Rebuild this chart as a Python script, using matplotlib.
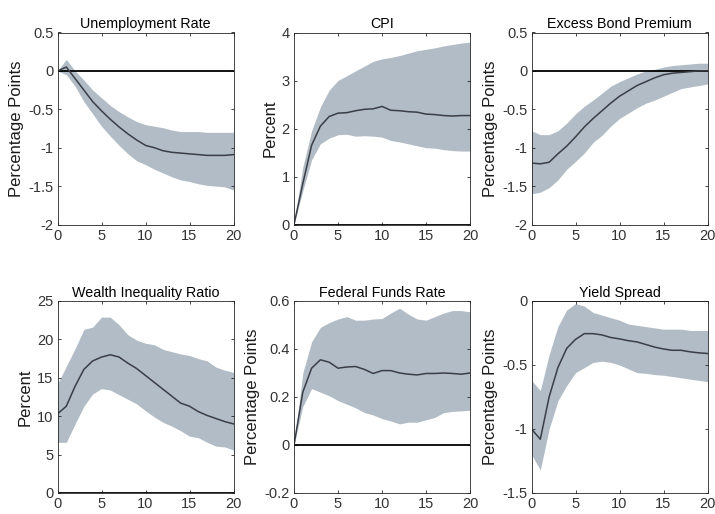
import numpy as np
import matplotlib
matplotlib.use("Agg")
import matplotlib.pyplot as plt

plt.rcParams["font.family"] = ["Liberation Sans", "DejaVu Sans"]

horizon = np.arange(21)

titles = ["Unemployment Rate", "CPI", "Excess Bond Premium",
          "Wealth Inequality Ratio", "Federal Funds Rate", "Yield Spread"]
ylabels = ["Percentage Points", "Percent", "Percentage Points",
           "Percent", "Percentage Points", "Percentage Points"]
ylims = [(-2, 0.5), (0, 4), (-2, 0.5), (0, 25), (-0.2, 0.6), (-1.5, 0)]
yticks = [[-2, -1.5, -1, -0.5, 0, 0.5], [0, 1, 2, 3, 4], [-2, -1.5, -1, -0.5, 0, 0.5],
          [0, 5, 10, 15, 20, 25], [-0.2, 0, 0.2, 0.4, 0.6], [-1.5, -1, -0.5, 0]]
yticklabels = [["-2", "-1.5", "-1", "-0.5", "0", "0.5"], ["0", "1", "2", "3", "4"],
               ["-2", "-1.5", "-1", "-0.5", "0", "0.5"], ["0", "5", "10", "15", "20", "25"],
               ["-0.2", "0", "0.2", "0.4", "0.6"], ["-1.5", "-1", "-0.5", "0"]]

# impulse responses (median) and bands
unemp_mid = [0, 0.05, -0.1, -0.25, -0.4, -0.52, -0.63, -0.73, -0.82, -0.9, -0.97,
             -1.0, -1.04, -1.06, -1.07, -1.08, -1.09, -1.1, -1.1, -1.1, -1.09]
unemp_hi = [0, 0.15, 0.0, -0.12, -0.25, -0.35, -0.45, -0.53, -0.6, -0.66, -0.7,
            -0.72, -0.74, -0.77, -0.79, -0.79, -0.79, -0.8, -0.8, -0.8, -0.8]
unemp_lo = [0, -0.05, -0.2, -0.4, -0.56, -0.72, -0.85, -0.97, -1.08, -1.17, -1.22,
            -1.28, -1.33, -1.38, -1.42, -1.44, -1.47, -1.49, -1.5, -1.51, -1.55]

cpi_mid = [0, 0.85, 1.65, 2.05, 2.25, 2.32, 2.33, 2.37, 2.4, 2.41, 2.46,
           2.38, 2.37, 2.35, 2.34, 2.3, 2.29, 2.27, 2.26, 2.27, 2.27]
cpi_hi = [0, 1.2, 1.95, 2.45, 2.8, 3.0, 3.1, 3.2, 3.3, 3.4, 3.45,
          3.48, 3.52, 3.57, 3.62, 3.65, 3.68, 3.72, 3.75, 3.78, 3.8]
cpi_lo = [0, 0.7, 1.35, 1.68, 1.8, 1.87, 1.88, 1.84, 1.85, 1.84, 1.82,
          1.75, 1.72, 1.68, 1.64, 1.6, 1.59, 1.56, 1.54, 1.53, 1.53]

ebp_mid = [-1.2, -1.21, -1.19, -1.08, -0.98, -0.86, -0.73, -0.62, -0.52, -0.42, -0.33,
           -0.26, -0.19, -0.14, -0.09, -0.05, -0.03, -0.02, -0.01, 0.0, 0.0]
ebp_hi = [-0.78, -0.83, -0.83, -0.78, -0.68, -0.56, -0.46, -0.38, -0.29, -0.2, -0.14,
          -0.09, -0.04, 0.0, 0.02, 0.05, 0.07, 0.08, 0.09, 0.1, 0.1]
ebp_lo = [-1.6, -1.58, -1.52, -1.42, -1.28, -1.18, -1.07, -0.93, -0.84, -0.72, -0.62,
          -0.55, -0.48, -0.42, -0.38, -0.33, -0.28, -0.23, -0.21, -0.19, -0.17]

wealth_mid = [10.3, 11.3, 13.9, 16.1, 17.2, 17.7, 18.0, 17.7, 16.9, 16.2, 15.3,
              14.4, 13.5, 12.6, 11.7, 11.3, 10.6, 10.1, 9.7, 9.3, 9.0]
wealth_hi = [14.2, 16.5, 18.8, 21.3, 21.6, 22.9, 22.9, 21.9, 20.6, 19.9, 19.5,
             19.3, 18.7, 18.4, 18.1, 17.9, 17.5, 17.2, 16.4, 16.0, 15.7]
wealth_lo = [6.6, 6.6, 9.0, 11.3, 12.9, 13.6, 13.4, 12.8, 12.2, 11.6, 10.7,
             9.9, 9.2, 8.7, 8.1, 7.4, 7.2, 6.6, 6.1, 6.0, 5.6]

ffr_mid = [0, 0.22, 0.32, 0.355, 0.345, 0.32, 0.325, 0.327, 0.315, 0.298, 0.31,
           0.31, 0.30, 0.295, 0.292, 0.298, 0.298, 0.3, 0.298, 0.295, 0.3]
ffr_hi = [0, 0.3, 0.43, 0.49, 0.51, 0.525, 0.535, 0.52, 0.52, 0.525, 0.527,
          0.55, 0.57, 0.545, 0.525, 0.52, 0.535, 0.55, 0.56, 0.56, 0.555]
ffr_lo = [0, 0.16, 0.235, 0.22, 0.205, 0.185, 0.17, 0.155, 0.135, 0.125, 0.11,
          0.1, 0.088, 0.095, 0.095, 0.105, 0.115, 0.135, 0.14, 0.142, 0.145]

spread_mid = [-1.0, -1.08, -0.75, -0.52, -0.37, -0.3, -0.255, -0.255, -0.265, -0.285, -0.296,
              -0.31, -0.32, -0.34, -0.36, -0.375, -0.385, -0.385, -0.397, -0.405, -0.41]
spread_hi = [-0.62, -0.7, -0.42, -0.2, -0.07, -0.02, -0.04, -0.09, -0.11, -0.13, -0.15,
             -0.18, -0.19, -0.2, -0.21, -0.22, -0.22, -0.22, -0.23, -0.23, -0.23]
spread_lo = [-1.2, -1.32, -1.0, -0.78, -0.66, -0.56, -0.52, -0.48, -0.47, -0.48, -0.5,
             -0.53, -0.56, -0.565, -0.575, -0.58, -0.59, -0.6, -0.61, -0.62, -0.63]

mids = [unemp_mid, cpi_mid, ebp_mid, wealth_mid, ffr_mid, spread_mid]
his = [unemp_hi, cpi_hi, ebp_hi, wealth_hi, ffr_hi, spread_hi]
los = [unemp_lo, cpi_lo, ebp_lo, wealth_lo, ffr_lo, spread_lo]

fig = plt.figure(figsize=(7.15, 5.14), dpi=100)

# axes positions in pixels: left, top of each panel
lefts = [57.5, 294, 531.5]
tops = [32.5, 301]
w_px, h_px = 176, 192

band_color = "#b2bcc6"
line_color = "#3a3e46"
axis_color = "#262626"

for i in range(6):
    r, c = divmod(i, 3)
    l = lefts[c] / 715
    b = 1 - (tops[r] + h_px) / 514
    ax = fig.add_axes([l, b, w_px / 715, h_px / 514])
    ax.fill_between(horizon, los[i], his[i], color=band_color, lw=0)
    ax.axhline(0, color="black", lw=1.3)
    ax.plot(horizon, mids[i], color=line_color, lw=1.1)
    ax.set_xlim(0, 20)
    ax.set_ylim(*ylims[i])
    ax.set_xticks([0, 5, 10, 15, 20])
    ax.set_yticks(yticks[i])
    ax.set_yticklabels(yticklabels[i])
    ax.set_title(titles[i], fontsize=10.3, color="black", pad=3)
    ax.set_ylabel(ylabels[i], fontsize=12, color="#1a1a1a", labelpad=3)
    ax.tick_params(direction="in", length=2.5, width=0.6, colors=axis_color,
                   labelsize=10.5, top=True, right=True, pad=3)
    ax.tick_params(axis="both", labelcolor="#333333")
    for s in ax.spines.values():
        s.set_color(axis_color)
        s.set_linewidth(0.6)

fig.savefig("out.png", dpi=100)
